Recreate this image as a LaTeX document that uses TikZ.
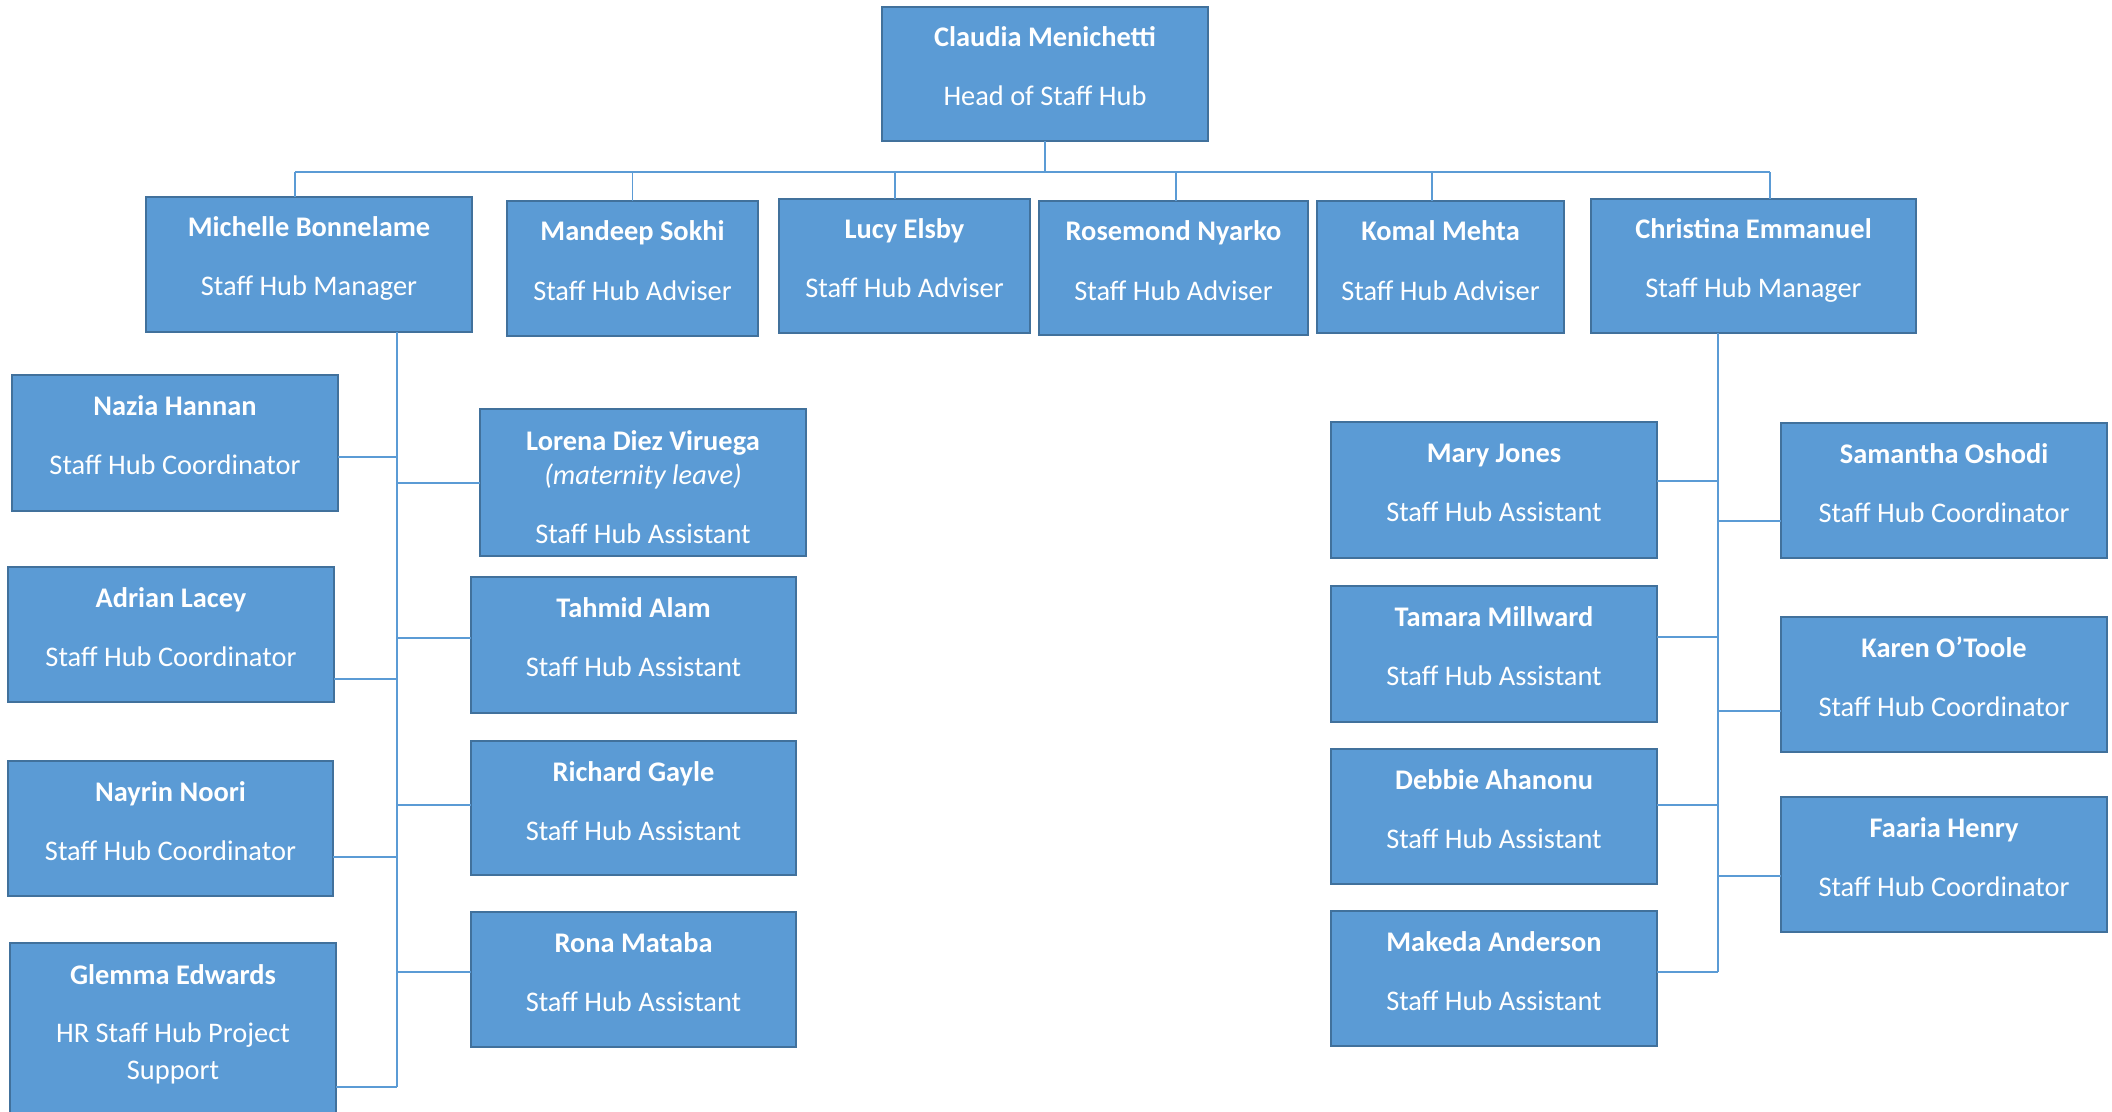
\documentclass[tikz,border=0pt]{standalone}
\usepackage{fontspec}
\setmainfont{Carlito}
\usetikzlibrary{calc}
\definecolor{boxfill}{HTML}{5B9BD5}
\definecolor{boxline}{HTML}{41719C}
\definecolor{connline}{HTML}{5B9BD5}
\tikzset{
  obox/.style={rectangle, draw=boxline, fill=boxfill, line width=1.4pt, inner sep=0pt, outer sep=0pt},
  ntext/.style={anchor=base, inner sep=0pt, text=white, font=\fontsize{14.2}{18}\selectfont\bfseries},
  ttext/.style={anchor=base, inner sep=0pt, text=white, font=\fontsize{14.2}{18}\selectfont},
  itext/.style={anchor=base, inner sep=0pt, text=white, font=\fontsize{14.2}{18}\selectfont\itshape},
  conn/.style={draw=connline, line width=0.75pt},
}
\newcommand\orgbox[5]{%
  \node[obox, anchor=north west, minimum width={(#4-#2)*0.5pt}, minimum height={(#5-#3)*0.5pt}] (#1) at (#2,#3) {};}
\newcommand\person[7]{%
  \orgbox{#1}{#2}{#3}{#4}{#5}
  \node[ntext] (#1-n) at ($(#1.north)+(0,40)$) {#6};
  \node[ttext] (#1-t) at ($(#1.north)+(0,99)$) {#7};}
\newcommand\branchE[3]{\draw[conn] ($(#1.north east)+(0,#3)$) -- ($(#2 |- #1.north east)+(0,#3)$);}
\newcommand\branchW[3]{\draw[conn] ($(#1.north west)+(0,#3)$) -- ($(#2 |- #1.north west)+(0,#3)$);}
\newcommand\busdrop[2]{\draw[conn] ($(#1.north)+(#2,0)$) -- ($(#1.north |- bus)+(#2,0)$);}
\begin{document}
\begin{tikzpicture}[x=0.5pt, y=-0.5pt]
\useasboundingbox (0,0) rectangle (2112,1112);
\fill[white] (0,0) rectangle (2112,1112);
\coordinate (bus) at (0,172);
\coordinate (ltrunk) at (397,0);
\coordinate (rtrunk) at (1718,0);

% top
\person{claudia}{882}{7}{1208}{141}{Claudia Menichetti}{Head of Staff Hub}
% second row
\person{michelle}{146}{197}{472}{332}{Michelle Bonnelame}{Staff Hub Manager}
\person{mandeep}{507}{201}{758}{336}{Mandeep Sokhi}{Staff Hub Adviser}
\person{lucy}{779}{199}{1030}{333}{Lucy Elsby}{Staff Hub Adviser}
\person{rosemond}{1039}{201}{1308}{335}{Rosemond Nyarko}{Staff Hub Adviser}
\person{komal}{1317}{201}{1564}{333}{Komal Mehta}{Staff Hub Adviser}
\person{christina}{1591}{199}{1916}{333}{Christina Emmanuel}{Staff Hub Manager}

% left group
\person{nazia}{12}{375}{338}{511}{Nazia Hannan}{Staff Hub Coordinator}
\person{adrian}{8}{567}{334}{702}{Adrian Lacey}{Staff Hub Coordinator}
\person{nayrin}{8}{761}{333}{896}{Nayrin Noori}{Staff Hub Coordinator}
\orgbox{glemma}{10}{943}{336}{1130}
\node[ntext] (glemma-n) at ($(glemma.north)+(0,41)$) {Glemma Edwards};
\node[ttext] (glemma-t1) at ($(glemma.north)+(0,99)$) {HR Staff Hub Project};
\node[ttext] (glemma-t2) at ($(glemma.north)+(0,136)$) {Support};

\orgbox{lorena}{480}{409}{806}{556}
\node[ntext] (lorena-n) at ($(lorena.north)+(0,41)$) {Lorena Diez Viruega};
\node[itext] (lorena-i) at ($(lorena.north)+(0,75)$) {(maternity leave)};
\node[ttext] (lorena-t) at ($(lorena.north)+(0,134)$) {Staff Hub Assistant};
\person{tahmid}{471}{577}{796}{713}{Tahmid Alam}{Staff Hub Assistant}
\person{richard}{471}{741}{796}{875}{Richard Gayle}{Staff Hub Assistant}
\person{rona}{471}{912}{796}{1047}{Rona Mataba}{Staff Hub Assistant}

% right group
\person{mary}{1331}{422}{1657}{558}{Mary Jones}{Staff Hub Assistant}
\person{tamara}{1331}{586}{1657}{722}{Tamara Millward}{Staff Hub Assistant}
\person{debbie}{1331}{749}{1657}{884}{Debbie Ahanonu}{Staff Hub Assistant}
\person{makeda}{1331}{911}{1657}{1046}{Makeda Anderson}{Staff Hub Assistant}
\person{samantha}{1781}{423}{2107}{558}{Samantha Oshodi}{Staff Hub Coordinator}
\person{karen}{1781}{617}{2107}{752}{Karen O’Toole}{Staff Hub Coordinator}
\person{faaria}{1781}{797}{2107}{932}{Faaria Henry}{Staff Hub Coordinator}

% connectors: top bus
\draw[conn] (claudia.south) -- (claudia.south |- bus);
\draw[conn] ($(michelle.north |- bus)+(-14,0)$) -- ($(christina.north |- bus)+(16.5,0)$);
\busdrop{michelle}{-14}
\busdrop{mandeep}{0}
\busdrop{lucy}{-9.5}
\busdrop{rosemond}{2.5}
\busdrop{komal}{-8.5}
\busdrop{christina}{16.5}

% left trunk
\draw[conn] (ltrunk |- michelle.south) -- ($(ltrunk |- glemma.north)+(0,144)$);
\branchE{nazia}{ltrunk}{82}
\branchE{adrian}{ltrunk}{112}
\branchE{nayrin}{ltrunk}{96}
\branchE{glemma}{ltrunk}{144}
\branchW{lorena}{ltrunk}{74}
\branchW{tahmid}{ltrunk}{61}
\branchW{richard}{ltrunk}{64}
\branchW{rona}{ltrunk}{60}

% right trunk
\draw[conn] (rtrunk |- christina.south) -- ($(rtrunk |- makeda.north)+(0,61)$);
\branchE{mary}{rtrunk}{59}
\branchE{tamara}{rtrunk}{51}
\branchE{debbie}{rtrunk}{56}
\branchE{makeda}{rtrunk}{61}
\branchW{samantha}{rtrunk}{98}
\branchW{karen}{rtrunk}{94}
\branchW{faaria}{rtrunk}{79}
\end{tikzpicture}
\end{document}
